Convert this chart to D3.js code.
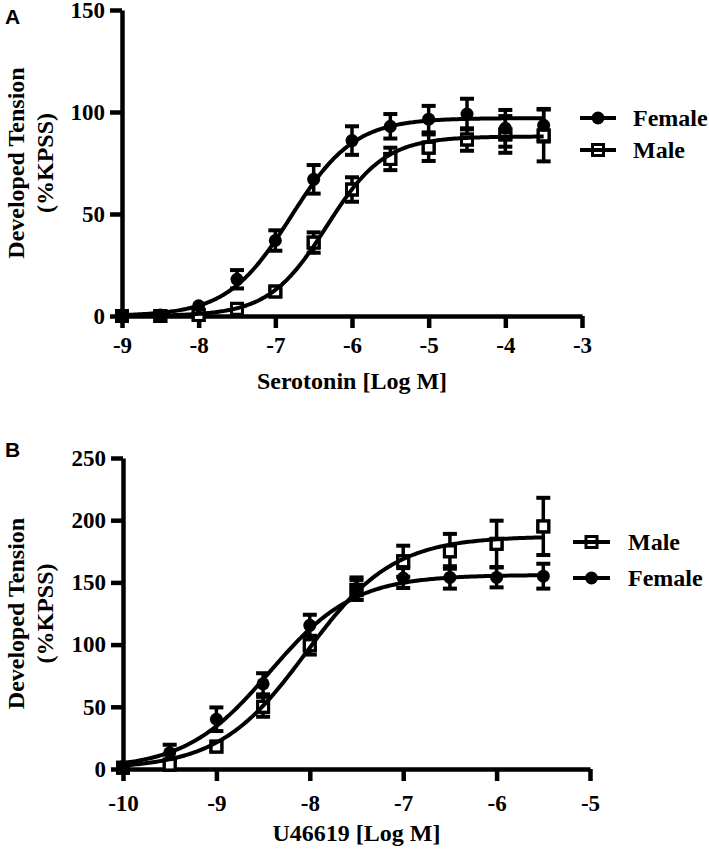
<!DOCTYPE html>
<html><head><meta charset="utf-8">
<script src="https://cdn.jsdelivr.net/npm/d3@7"></script>
<style>body{margin:0;background:#fff}svg{display:block}</style>
</head><body><svg id="c" width="709" height="850"></svg>
<script>
// ---------- Panel A: Serotonin ----------
const serotoninDose = [-9, -8.5, -8, -7.5, -7, -6.5, -6, -5.5, -5, -4.5, -4, -3.5];
const serotoninFemale = [0, 0.5, 5, 18, 37, 67, 86, 93, 96.5, 99, 92, 93.5];
const serotoninFemaleSem = [0.5, 0.5, 1.5, 4.5, 5, 7, 7, 6, 6.5, 7.5, 9, 8];
const serotoninMale = [0, 0, 0.5, 3.5, 12, 36, 62, 77, 82.5, 86.5, 89, 88.5];
const serotoninMaleSem = [0.5, 0.5, 0.5, 1, 1.5, 5, 6, 5.5, 6.5, 5.5, 9, 12.7];
// fitted curve parameters: [bottom, top, logEC50, hillSlope]
const serotoninFemaleFit = [0, 97, -6.8, 1.05];
const serotoninMaleFit = [0, 88, -6.33, 1.15];
const serotoninXTicks = [-9, -8, -7, -6, -5, -4, -3];
const serotoninYTicks = [0, 50, 100, 150];

// ---------- Panel B: U46619 ----------
const uDose = [-10, -9.5, -9, -8.5, -8, -7.5, -7, -6.5, -6, -5.5];
const uFemale = [2, 13, 40, 68.5, 115.5, 145, 153.5, 154, 154, 155];
const uFemaleSem = [1, 6.5, 9.5, 8.5, 8.5, 9, 8, 9, 8, 10];
const uMale = [1, 3.5, 18, 50, 99.5, 144, 167, 175, 181, 195];
const uMaleSem = [1, 1.5, 2, 8, 7.5, 8, 12.5, 14, 18.6, 23];
const uFemaleFit = [0, 156, -8.43, 0.96];
const uMaleFit = [0, 187, -8.04, 0.93];
const uXTicks = [-10, -9, -8, -7, -6, -5];
const uYTicks = [0, 50, 100, 150, 200, 250];

const SERIF = '"Liberation Serif","Times New Roman",serif';
const SANS = '"Liberation Sans",Arial,sans-serif';
const svg = d3.select('#c');
svg.append('rect').attr('width', 709).attr('height', 850).attr('fill', '#fff');

function hill(p, x) { return p[0] + (p[1] - p[0]) / (1 + Math.pow(10, (p[2] - x) * p[3])); }

function drawPanel(cfg) {
  const g = svg.append('g');
  const x = d3.scaleLinear().domain(cfg.xDomain).range(cfg.xRange);
  const y = d3.scaleLinear().domain(cfg.yDomain).range(cfg.yRange);

  const xAxis = g.append('g').attr('transform', `translate(0,${cfg.yRange[0]})`)
    .call(d3.axisBottom(x).tickValues(cfg.xTicks).tickFormat(d => String(d))
      .tickSize(12).tickSizeOuter(0).tickPadding(cfg.xPad));
  const yAxis = g.append('g').attr('transform', `translate(${cfg.xRange[0]},0)`)
    .call(d3.axisLeft(y).tickValues(cfg.yTicks).tickFormat(d => String(d))
      .tickSize(12).tickSizeOuter(0).tickPadding(5));
  [xAxis, yAxis].forEach(a => {
    a.select('.domain').attr('stroke', '#000').attr('stroke-width', 4.5);
    a.selectAll('.tick line').attr('stroke', '#000').attr('stroke-width', 4.5);
    a.selectAll('.tick text').attr('fill', '#000').style('font-family', SERIF)
      .style('font-weight', 'bold').style('font-size', '23px');
  });

  // axis titles
  g.append('text').attr('x', (cfg.xRange[0] + cfg.xRange[1]) / 2).attr('y', cfg.xTitleY)
    .attr('text-anchor', 'middle').style('font-family', SERIF).style('font-weight', 'bold')
    .style('font-size', '24px').text(cfg.xTitle);
  const cy = (cfg.yRange[0] + cfg.yRange[1]) / 2;
  const yt = g.append('g').attr('transform', `translate(24,${cy}) rotate(-90)`);
  yt.append('text').attr('x', 0).attr('y', 0).attr('text-anchor', 'middle')
    .style('font-family', SERIF).style('font-weight', 'bold').style('font-size', '24px').text('Developed Tension');
  yt.append('text').attr('x', 0).attr('y', 29).attr('text-anchor', 'middle')
    .style('font-family', SERIF).style('font-weight', 'bold').style('font-size', '24px').text('(%KPSS)');

  // panel letter
  g.append('text').attr('x', 5).attr('y', cfg.letterY).style('font-family', SANS)
    .style('font-weight', 'bold').style('font-size', '21px').text(cfg.letter);

  const series = cfg.series;
  // error bars
  series.forEach(s => {
    s.dose.forEach((d, i) => {
      const cx = x(d), yc = y(s.vals[i]);
      const yTop = y(s.vals[i] + s.sem[i]), yBot = y(s.vals[i] - s.sem[i]);
      if (yc - yTop < 6.5) return;
      g.append('line').attr('x1', cx).attr('x2', cx).attr('y1', yTop).attr('y2', yBot)
        .attr('stroke', '#000').attr('stroke-width', 3.5);
      [yTop, yBot].forEach(yy => g.append('line').attr('x1', cx - 7).attr('x2', cx + 7)
        .attr('y1', yy).attr('y2', yy).attr('stroke', '#000').attr('stroke-width', 4));
    });
  });
  // squares (male) with white fill under the curves
  series.filter(s => s.shape === 'square').forEach(s => {
    g.selectAll(null).data(s.dose).enter().append('rect')
      .attr('x', (d) => x(d) - 5.5).attr('y', (d, i) => y(s.vals[i]) - 5.5)
      .attr('width', 11).attr('height', 11).attr('fill', '#fff')
      .attr('stroke', '#000').attr('stroke-width', 3);
  });
  // fitted curves
  const line = d3.line().x(d => x(d[0])).y(d => y(d[1])).curve(d3.curveLinear);
  series.forEach(s => {
    const lo = s.dose[0], hi = s.dose[s.dose.length - 1];
    const pts = d3.range(lo, hi + 1e-9, 0.02).map(v => [v, hill(s.fit, v)]);
    g.append('path').attr('d', line(pts)).attr('fill', 'none')
      .attr('stroke', '#000').attr('stroke-width', 4);
  });
  // square outlines again (so edges are crisp over the curve)
  series.filter(s => s.shape === 'square').forEach(s => {
    g.selectAll(null).data(s.dose).enter().append('rect')
      .attr('x', (d) => x(d) - 5.5).attr('y', (d, i) => y(s.vals[i]) - 5.5)
      .attr('width', 11).attr('height', 11).attr('fill', 'none')
      .attr('stroke', '#000').attr('stroke-width', 3);
  });
  // circles (female)
  series.filter(s => s.shape === 'circle').forEach(s => {
    g.selectAll(null).data(s.dose).enter().append('circle')
      .attr('cx', d => x(d)).attr('cy', (d, i) => y(s.vals[i])).attr('r', 6.5).attr('fill', '#000');
  });

  // legend
  cfg.legend.forEach(L => {
    const s = series.find(q => q.name === L.name);
    g.append('line').attr('x1', L.x0).attr('x2', L.x1).attr('y1', L.y).attr('y2', L.y)
      .attr('stroke', '#000').attr('stroke-width', 4);
    const mx = (L.x0 + L.x1) / 2;
    if (s.shape === 'circle') {
      g.append('circle').attr('cx', mx).attr('cy', L.y).attr('r', 6.5).attr('fill', '#000');
    } else {
      g.append('rect').attr('x', mx - 5.5).attr('y', L.y - 5.5).attr('width', 11).attr('height', 11)
        .attr('fill', 'none').attr('stroke', '#000').attr('stroke-width', 3);
    }
    g.append('text').attr('x', L.tx).attr('y', L.y + 8).style('font-family', SERIF)
      .style('font-weight', 'bold').style('font-size', '24px').text(L.name);
  });
}

drawPanel({
  xDomain: [-9, -3], xRange: [122, 582], yDomain: [0, 150], yRange: [316, 10],
  xTicks: serotoninXTicks, yTicks: serotoninYTicks, xPad: 9,
  xTitle: 'Serotonin [Log M]', xTitleY: 389, letter: 'A', letterY: 24,
  series: [
    { name: 'Female', shape: 'circle', dose: serotoninDose, vals: serotoninFemale, sem: serotoninFemaleSem, fit: serotoninFemaleFit },
    { name: 'Male', shape: 'square', dose: serotoninDose, vals: serotoninMale, sem: serotoninMaleSem, fit: serotoninMaleFit }
  ],
  legend: [
    { name: 'Female', x0: 580, x1: 616, y: 118, tx: 633 },
    { name: 'Male', x0: 580, x1: 616, y: 150, tx: 633 }
  ]
});

drawPanel({
  xDomain: [-10, -5], xRange: [123, 590], yDomain: [0, 250], yRange: [769, 458],
  xTicks: uXTicks, yTicks: uYTicks, xPad: 14,
  xTitle: 'U46619 [Log M]', xTitleY: 841, letter: 'B', letterY: 457,
  series: [
    { name: 'Female', shape: 'circle', dose: uDose, vals: uFemale, sem: uFemaleSem, fit: uFemaleFit },
    { name: 'Male', shape: 'square', dose: uDose, vals: uMale, sem: uMaleSem, fit: uMaleFit }
  ],
  legend: [
    { name: 'Male', x0: 573, x1: 610, y: 542, tx: 628 },
    { name: 'Female', x0: 573, x1: 610, y: 578, tx: 628 }
  ]
});
</script></body></html>
